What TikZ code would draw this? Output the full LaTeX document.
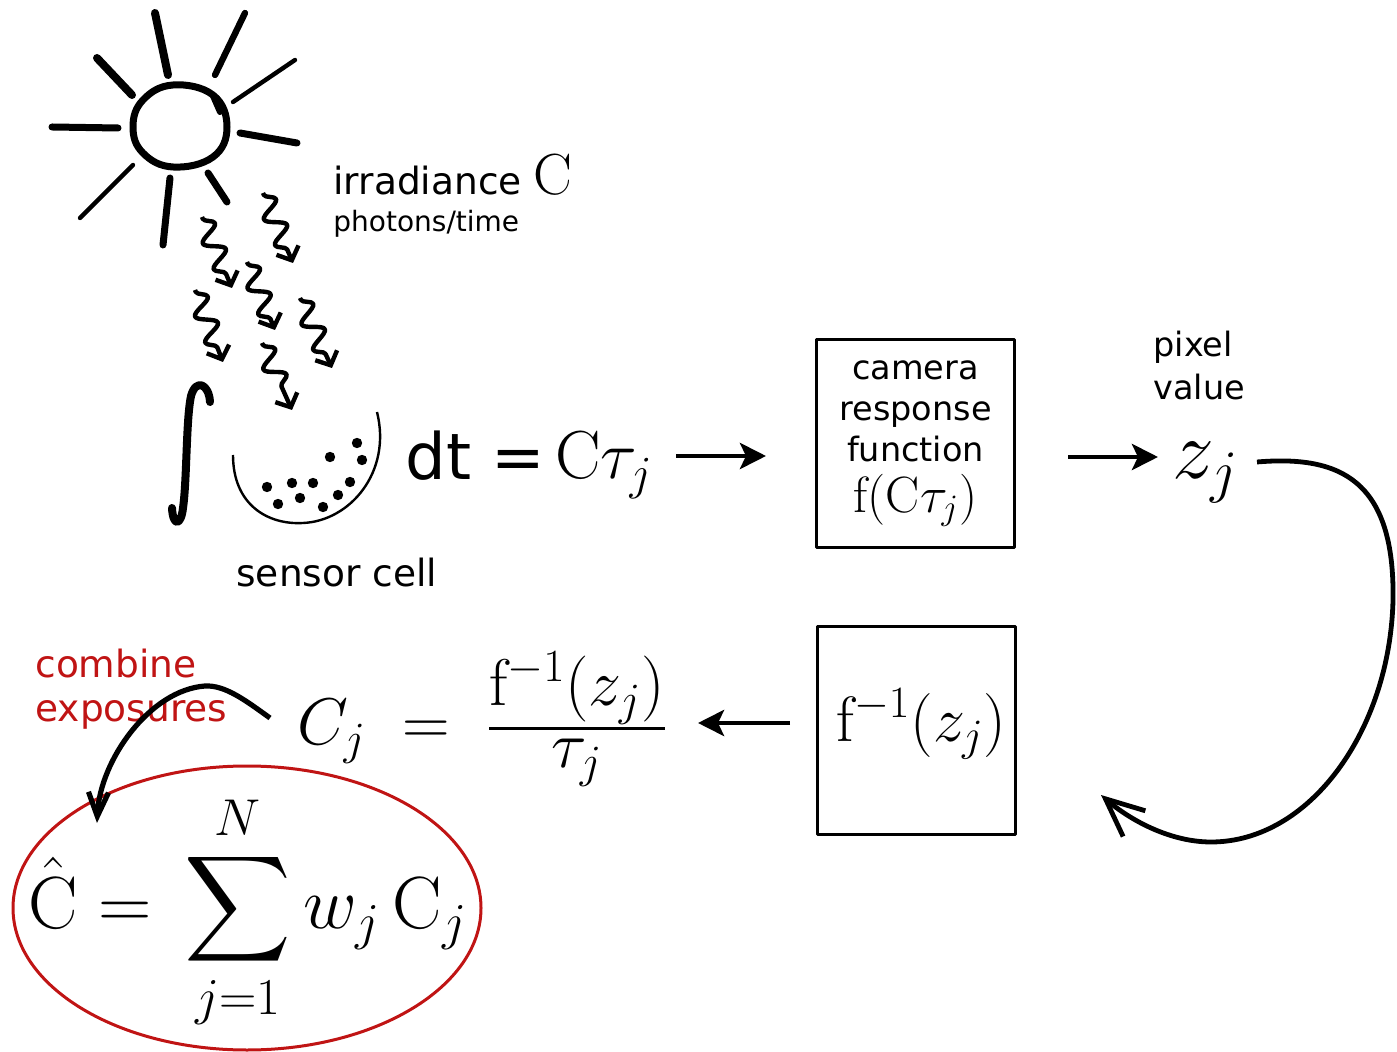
\RequirePackage{fix-cm}
\documentclass[tikz,border=0pt]{standalone}
\usepackage{fontspec}
\newfontfamily\dv{DejaVu Sans}
\usetikzlibrary{arrows.meta,decorations.pathmorphing}
\definecolor{hdrred}{RGB}{192,20,20}
% let the big operators scale with the font size
\DeclareFontShape{OMX}{cmex}{m}{n}{<-> cmex10}{}

\tikzset{
  lbl/.style={font=\dv\fontsize{18.75}{22}\selectfont, inner sep=0pt},
  smalllbl/.style={font=\dv\fontsize{14}{16}\selectfont, inner sep=0pt},
  midlbl/.style={font=\dv\fontsize{16.75}{21.5}\selectfont, inner sep=0pt},
  mathlbl/.style={inner sep=0pt, font=\fontsize{#1}{#1}\selectfont},
  box/.style={draw, line width=1.5pt, minimum width=99pt, minimum height=104pt,
    inner sep=0pt, align=center},
  ray/.style={line width=#1, line cap=round},
  photon/.style={line width=2.2pt, decorate,
    decoration={snake, amplitude=4.8pt, segment length=14pt, pre length=1pt, post length=6pt},
    -{Straight Barb[length=5.5pt,width=12pt]}},
  bigarrow/.style={line width=2.4pt, -{Stealth[length=13pt,width=13pt,inset=3pt]}},
  looparrow/.style={line width=2.4pt, -{Straight Barb[length=19pt,width=17pt]}},
  combarrow/.style={line width=2.6pt, -{Straight Barb[length=12pt,width=10pt]}},
}

\begin{document}
\begin{tikzpicture}[x=0.5pt,y=-0.5pt, line join=round]
\useasboundingbox (0,0) rectangle (1397,1052);

% --- the sun ---
\draw[line width=3.5pt] plot[smooth cycle, tension=0.7] coordinates
  {(133,127) (143,100) (173,85) (213,95) (227,127) (213,157) (173,167) (143,153)};
\draw[ray=3pt] (213,96) -- (220,112);
\draw[ray=4pt]   (97,58) -- (132,95);
\draw[ray=4pt]   (155,13) -- (168,75);
\draw[ray=3.2pt] (245,13) -- (215,75);
\draw[ray=2.2pt] (295,60) -- (233,102);
\draw[ray=3.5pt] (240,133) -- (297,143);
\draw[ray=3.5pt] (52,127) -- (118,128);
\draw[ray=2.2pt] (133,165) -- (80,218);
\draw[ray=3.5pt] (170,178) -- (163,245);
\draw[ray=3.5pt] (208,173) -- (227,202);

% --- photons ---
\draw[photon] (263,193) -- (293,263);
\draw[photon] (202,217) -- (232,288);
\draw[photon] (247,262) -- (275,330);
\draw[photon] (195,290) -- (223,362);
\draw[photon] (300,298) -- (332,368);
\draw[photon] (262,343) -- (292,410);

% --- integral sign and sensor cell ---
\draw[line width=4pt, line cap=round] (210,402) .. controls (209,384) and (196,378) .. (191,396)
  .. controls (186,420) and (187,480) .. (183,508) .. controls (181,526) and (173,527) .. (172,508);
\draw[line width=1.2pt] (233,455) .. controls (233,505) and (268,525) .. (303,523)
  .. controls (350,521) and (392,472) .. (377,412);
\foreach \p in {(357,443),(330,457),(362,460),(267,487),(292,483),(313,483),(350,482),
                (278,504),(300,498),(338,495),(323,507)}
  \fill \p circle[radius=2.6pt];

% --- labels ---
\node[lbl, anchor=base west] (irr) at (333,195)
  {irradiance {\fontsize{29}{30}\selectfont$\mathrm{C}$}};
\node[smalllbl, anchor=base west] (pht) at (333,232) {photons/time};
\node[lbl, anchor=base west] (cell) at (236,587) {sensor cell};
\node[inner sep=0pt, anchor=base west, font=\dv\fontsize{32}{36}\selectfont] (dt) at (405,480) {dt =};
\node[mathlbl=34, anchor=base west] (ctau) at (555,479) {$\mathrm{C}\tau_j$};

% --- camera response ---
\node[box, font=\dv\fontsize{16.75}{20.5}\selectfont] (crf) at (915.5,443.5)
  {camera\\response\\function\\[5pt]{\fontsize{25.5}{27}\selectfont$\mathrm{f}(\mathrm{C}\tau_j)$}};
\node[midlbl, anchor=base west, align=left] (pv) at (1153,400) {pixel\\value};
\node[mathlbl=42, anchor=base west] (z) at (1172,479) {$z_j$};

% --- inverse response ---
\node[box] (inv) at (916.5,730.5) {};
\node[mathlbl=32, anchor=base west] (invf) at (836,741) {$\mathrm{f}^{-1}(z_j)$};
\node[mathlbl=33, anchor=base west] (cj) at (297,745)
  {$C_j\;=\;\frac{\textstyle\mathrm{f}^{-1}(z_j)}{\textstyle\tau_j}$};

% --- combination ---
\node[lbl, text=hdrred, anchor=base west, align=left] (comb) at (35,722) {combine\\exposures};
\node[mathlbl=37, anchor=base west] (sum) at (28,928)
  {$\displaystyle \hat{\mathrm{C}}=\,\sum_{j=1}^{N} w_j\,\mathrm{C}_j$};
\draw[hdrred, line width=1.5pt] (247,908) ellipse [x radius=117pt, y radius=71pt];

% --- connectors ---
\coordinate (a1s) at (676,456);  \coordinate (a1e) at (766,456);
\coordinate (a2s) at (1068,457); \coordinate (a2e) at (1158,457);
\coordinate (a3s) at (790,723);  \coordinate (a3e) at (698,723);
\coordinate (ls) at (1257,462);  \coordinate (le) at (1101,795);
\coordinate (cs) at (270,718);   \coordinate (ce) at (97,823);
\draw[bigarrow] (a1s) -- (a1e);
\draw[bigarrow] (a2s) -- (a2e);
\draw[bigarrow] (a3s) -- (a3e);
\draw[looparrow] (ls) .. controls (1340,455) and (1395,480) .. (1393,600)
  .. controls (1390,730) and (1310,842) .. (1211,842)
  .. controls (1170,842) and (1130,820) .. (le);
\draw[combarrow] (cs) .. controls (245,700) and (225,685) .. (205,686)
  .. controls (150,690) and (100,760) .. (ce);
\end{tikzpicture}
\end{document}
